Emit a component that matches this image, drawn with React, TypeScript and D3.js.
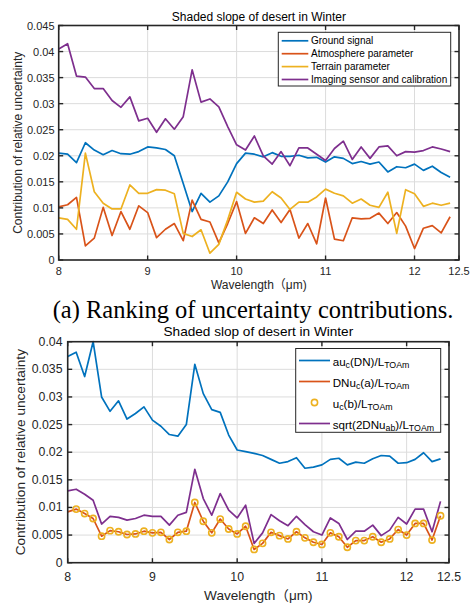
import React, { useEffect, useRef } from 'react'
import * as d3 from 'd3'

// wavelength grid (um)
const wavelength = [
  8.0, 8.1, 8.2, 8.3, 8.4, 8.5, 8.6, 8.7, 8.8, 8.9,
  9.0, 9.1, 9.2, 9.3, 9.4, 9.5, 9.6, 9.7, 9.8, 9.9,
  10.0, 10.1, 10.2, 10.3, 10.4, 10.5, 10.6, 10.7, 10.8, 10.9,
  11.0, 11.1, 11.2, 11.3, 11.4, 11.5, 11.6, 11.7, 11.8, 11.9,
  12.0, 12.1, 12.2, 12.3, 12.4,
]

// (a) ranking of uncertainty contributions
const groundSignal = [
  0.0205, 0.0203, 0.0187, 0.0225, 0.0211, 0.0202, 0.0210, 0.0204, 0.0203, 0.0208,
  0.0217, 0.0215, 0.0212, 0.0200, 0.0147, 0.0093, 0.0128, 0.0111, 0.0123, 0.0150,
  0.0185, 0.0205, 0.0203, 0.0198, 0.0206, 0.0199, 0.0199, 0.0201, 0.0196, 0.0197,
  0.0188, 0.0198, 0.0195, 0.0185, 0.0189, 0.0184, 0.0188, 0.0169, 0.0179, 0.0177,
  0.0184, 0.0172, 0.0180, 0.0168, 0.0159,
]
const atmosphere = [
  0.0102, 0.0106, 0.0120, 0.0027, 0.0042, 0.0101, 0.0047, 0.0093, 0.0059, 0.0104,
  0.0091, 0.0043, 0.0059, 0.0070, 0.0037, 0.0115, 0.0078, 0.0073, 0.0033, 0.0070,
  0.0112, 0.0051, 0.0081, 0.0070, 0.0096, 0.0072, 0.0097, 0.0042, 0.0070, 0.0031,
  0.0119, 0.0040, 0.0037, 0.0081, 0.0079, 0.0080, 0.0090, 0.0070, 0.0091, 0.0065,
  0.0022, 0.0061, 0.0066, 0.0052, 0.0083,
]
const terrain = [
  0.0081, 0.0078, 0.0059, 0.0205, 0.0131, 0.0109, 0.0098, 0.0098, 0.0144, 0.0128,
  0.0128, 0.0135, 0.0134, 0.0127, 0.0051, 0.0045, 0.0058, 0.0013, 0.0030, 0.0077,
  0.0130, 0.0117, 0.0111, 0.0113, 0.0131, 0.0119, 0.0097, 0.0111, 0.0111, 0.0121,
  0.0136, 0.0128, 0.0123, 0.0109, 0.0117, 0.0105, 0.0101, 0.0130, 0.0051, 0.0135,
  0.0127, 0.0103, 0.0109, 0.0105, 0.0109,
]
const imaging = [
  0.0405, 0.0415, 0.0353, 0.0351, 0.0329, 0.0329, 0.0306, 0.0293, 0.0313, 0.0267,
  0.0272, 0.0245, 0.0271, 0.0251, 0.0275, 0.0365, 0.0303, 0.0309, 0.0294, 0.0256,
  0.0221, 0.0211, 0.0238, 0.0200, 0.0184, 0.0208, 0.0181, 0.0215, 0.0215, 0.0203,
  0.0191, 0.0214, 0.0228, 0.0193, 0.0217, 0.0195, 0.0217, 0.0219, 0.0200, 0.0208,
  0.0207, 0.0210, 0.0217, 0.0213, 0.0208,
]

// (b) terms of the shaded slope
const auDN = [
  0.0373, 0.0381, 0.0337, 0.0400, 0.0300, 0.0274, 0.0293, 0.0260, 0.0270, 0.0282,
  0.0258, 0.0247, 0.0232, 0.0229, 0.0250, 0.0359, 0.0306, 0.0277, 0.0272, 0.0231,
  0.0204, 0.0201, 0.0198, 0.0194, 0.0187, 0.0180, 0.0183, 0.0190, 0.0171, 0.0173,
  0.0177, 0.0187, 0.0189, 0.0177, 0.0182, 0.0180, 0.0188, 0.0194, 0.0193, 0.0180,
  0.0181, 0.0187, 0.0199, 0.0183, 0.0188,
]
const dnUa = [
  0.0092, 0.0097, 0.0089, 0.0080, 0.0048, 0.0058, 0.0056, 0.0051, 0.0052, 0.0057,
  0.0054, 0.0055, 0.0042, 0.0055, 0.0057, 0.0109, 0.0075, 0.0054, 0.0079, 0.0061,
  0.0052, 0.0066, 0.0024, 0.0035, 0.0055, 0.0049, 0.0043, 0.0056, 0.0045, 0.0037,
  0.0033, 0.0054, 0.0047, 0.0028, 0.0040, 0.0040, 0.0047, 0.0037, 0.0043, 0.0060,
  0.0050, 0.0071, 0.0071, 0.0041, 0.0085,
]
// circles start at 8.1
const ucB = [
  0.0097, 0.0089, 0.0080, 0.0048, 0.0058, 0.0056, 0.0051, 0.0052, 0.0057,
  0.0054, 0.0055, 0.0042, 0.0055, 0.0057, 0.0109, 0.0075, 0.0054, 0.0079, 0.0061,
  0.0052, 0.0066, 0.0024, 0.0035, 0.0055, 0.0049, 0.0043, 0.0056, 0.0045, 0.0037,
  0.0033, 0.0054, 0.0047, 0.0028, 0.0040, 0.0040, 0.0047, 0.0037, 0.0043, 0.0060,
  0.0050, 0.0071, 0.0071, 0.0041, 0.0085,
]
const sqrtDNab = [
  0.0130, 0.0133, 0.0124, 0.0113, 0.0070, 0.0084, 0.0082, 0.0077, 0.0080, 0.0086,
  0.0084, 0.0084, 0.0068, 0.0086, 0.0091, 0.0169, 0.0116, 0.0086, 0.0125, 0.0095,
  0.0081, 0.0104, 0.0035, 0.0054, 0.0087, 0.0076, 0.0067, 0.0084, 0.0069, 0.0056,
  0.0050, 0.0081, 0.0071, 0.0042, 0.0057, 0.0057, 0.0068, 0.0049, 0.0059, 0.0082,
  0.0070, 0.0097, 0.0097, 0.0056, 0.0111,
]

const xTicks = [8, 9, 10, 11, 12, 12.5]
const yTicksTop = [0, 0.005, 0.01, 0.015, 0.02, 0.025, 0.03, 0.035, 0.04, 0.045]
const yTicksBottom = [0, 0.005, 0.01, 0.015, 0.02, 0.025, 0.03, 0.035, 0.04]

const topLegend = ['Ground signal', 'Atmosphere parameter', 'Terrain parameter', 'Imaging sensor and calibration']
// [text, isSubscript]
const bottomLegend: [string, boolean][][] = [
  [['au', false], ['c', true], ['(DN)/L', false], ['TOAm', true]],
  [['DNu', false], ['c', true], ['(a)/L', false], ['TOAm', true]],
  [['u', false], ['c', true], ['(b)/L', false], ['TOAm', true]],
  [['sqrt(2DNu', false], ['ab', true], [')/L', false], ['TOAm', true]],
]

const BLUE = '#0072BD'
const ORANGE = '#D95319'
const YELLOW = '#EDB120'
const PURPLE = '#7E2F8E'
const AXIS = '#262626'
const SANS = '"Liberation Sans", Arial, "Noto Sans CJK SC", sans-serif'

const drawAxes = (g, o) => {
  const x = d3.scaleLinear().domain([8, 12.5]).range([o.left, o.right])
  const y = d3.scaleLinear().domain([0, o.yMax]).range([o.bottom, o.top])

  g.append('rect')
    .attr('x', o.left).attr('y', o.top)
    .attr('width', o.right - o.left).attr('height', o.bottom - o.top)
    .attr('fill', '#fff')

  // grid
  g.selectAll('.gx').data(xTicks).join('line')
    .attr('x1', d => x(d)).attr('x2', d => x(d))
    .attr('y1', o.top).attr('y2', o.bottom)
    .attr('stroke', '#dcdcdc').attr('stroke-width', 1)
  g.selectAll('.gy').data(o.yTicks).join('line')
    .attr('x1', o.left).attr('x2', o.right)
    .attr('y1', d => y(d)).attr('y2', d => y(d))
    .attr('stroke', '#dcdcdc').attr('stroke-width', 1)

  return { x, y }
}

const drawFrame = (g, o, x, y) => {
  const tl = 4.5
  g.append('rect')
    .attr('x', o.left).attr('y', o.top)
    .attr('width', o.right - o.left).attr('height', o.bottom - o.top)
    .attr('fill', 'none').attr('stroke', AXIS).attr('stroke-width', 1.6)

  xTicks.forEach(t => {
    g.append('line').attr('x1', x(t)).attr('x2', x(t)).attr('y1', o.bottom).attr('y2', o.bottom - tl)
      .attr('stroke', AXIS).attr('stroke-width', 1.4)
    g.append('line').attr('x1', x(t)).attr('x2', x(t)).attr('y1', o.top).attr('y2', o.top + tl)
      .attr('stroke', AXIS).attr('stroke-width', 1.4)
  })
  o.yTicks.forEach(t => {
    g.append('line').attr('x1', o.left).attr('x2', o.left + tl).attr('y1', y(t)).attr('y2', y(t))
      .attr('stroke', AXIS).attr('stroke-width', 1.4)
    g.append('line').attr('x1', o.right).attr('x2', o.right - tl).attr('y1', y(t)).attr('y2', y(t))
      .attr('stroke', AXIS).attr('stroke-width', 1.4)
  })

  g.selectAll('.xl').data(xTicks).join('text')
    .attr('x', d => x(d)).attr('y', o.xTickY)
    .attr('text-anchor', 'middle').attr('dominant-baseline', 'central')
    .attr('font-family', SANS).attr('font-size', o.tickSize).attr('fill', AXIS)
    .text(d => String(d))
  g.selectAll('.yl').data(o.yTicks).join('text')
    .attr('x', o.yTickX).attr('y', d => y(d))
    .attr('text-anchor', 'end').attr('dominant-baseline', 'central')
    .attr('font-family', SANS).attr('font-size', o.tickSize).attr('fill', AXIS)
    .text(d => String(d))

  g.append('text')
    .attr('x', (o.left + o.right) / 2).attr('y', o.titleY)
    .attr('text-anchor', 'middle').attr('dominant-baseline', 'central')
    .attr('font-family', SANS).attr('font-size', o.labelSize).attr('fill', '#000')
    .text(o.title)
  g.append('text')
    .attr('x', (o.left + o.right) / 2).attr('y', o.xLabelY)
    .attr('text-anchor', 'middle').attr('dominant-baseline', 'central')
    .attr('font-family', SANS).attr('font-size', o.labelSize).attr('fill', AXIS)
    .text('Wavelength（μm)')
  g.append('text')
    .attr('transform', `translate(${o.yLabelX},${(o.top + o.bottom) / 2}) rotate(-90)`)
    .attr('text-anchor', 'middle').attr('dominant-baseline', 'central')
    .attr('font-family', SANS).attr('font-size', o.labelSize).attr('fill', AXIS)
    .text('Contribution of relative uncertainty')
}

const App = () => {
  const ref = useRef<SVGSVGElement>(null)

  useEffect(() => {
    const svg = d3.select(ref.current)
    svg.selectAll('*').remove()

    // ---------- top panel ----------
    const top = {
      left: 58.7, right: 459, top: 25.5, bottom: 260, yMax: 0.045, yTicks: yTicksTop,
      tickSize: 11, labelSize: 12, xTickY: 270.5, yTickX: 54.5, titleY: 16.5, xLabelY: 285, yLabelX: 17.5,
      title: 'Shaded slope of desert in Winter',
    }
    const g1 = svg.append('g')
    const a1 = drawAxes(g1, top)
    const line1 = vals => d3.line<number>().x((_, i) => a1.x(wavelength[i])).y(d => a1.y(d))(vals)
    const series1 = [
      { v: groundSignal, c: BLUE },
      { v: atmosphere, c: ORANGE },
      { v: terrain, c: YELLOW },
      { v: imaging, c: PURPLE },
    ]
    series1.forEach(s => {
      g1.append('path').attr('d', line1(s.v)).attr('fill', 'none')
        .attr('stroke', s.c).attr('stroke-width', 1.7).attr('stroke-linejoin', 'round')
    })
    drawFrame(g1, top, a1.x, a1.y)

    const lg1 = g1.append('g')
    lg1.append('rect').attr('x', 278.3).attr('y', 32.3).attr('width', 172.4).attr('height', 53.7)
      .attr('fill', '#fff').attr('stroke', AXIS).attr('stroke-width', 1)
    topLegend.forEach((name, i) => {
      const cy = 40.8 + i * 12.9
      lg1.append('line').attr('x1', 281.7).attr('x2', 308.3).attr('y1', cy).attr('y2', cy)
        .attr('stroke', series1[i].c).attr('stroke-width', 1.7)
      lg1.append('text').attr('x', 311).attr('y', cy).attr('dominant-baseline', 'central')
        .attr('font-family', SANS).attr('font-size', 10).attr('fill', '#000').text(name)
    })

    // caption
    svg.append('text').attr('x', 253).attr('y', 309).attr('text-anchor', 'middle')
      .attr('dominant-baseline', 'central')
      .attr('font-family', '"Liberation Serif", "Times New Roman", serif').attr('font-size', 24.5)
      .attr('fill', '#000').text('(a) Ranking of uncertainty contributions.')

    // ---------- bottom panel ----------
    const bot = {
      left: 67.7, right: 449, top: 341.7, bottom: 562.7, yMax: 0.04, yTicks: yTicksBottom,
      tickSize: 12.3, labelSize: 13.6, xTickY: 577, yTickX: 62.5, titleY: 331, xLabelY: 595, yLabelX: 20,
      title: 'Shaded slop of desert in Winter',
    }
    const g2 = svg.append('g')
    const a2 = drawAxes(g2, bot)
    const line2 = vals => d3.line<number>().x((_, i) => a2.x(wavelength[i])).y(d => a2.y(d))(vals)
    g2.append('path').attr('d', line2(auDN)).attr('fill', 'none')
      .attr('stroke', BLUE).attr('stroke-width', 1.7).attr('stroke-linejoin', 'round')
    g2.append('path').attr('d', line2(sqrtDNab)).attr('fill', 'none')
      .attr('stroke', PURPLE).attr('stroke-width', 1.7).attr('stroke-linejoin', 'round')
    g2.append('path').attr('d', line2(dnUa)).attr('fill', 'none')
      .attr('stroke', ORANGE).attr('stroke-width', 1.7).attr('stroke-linejoin', 'round')
    const wB = wavelength.slice(1)
    g2.selectAll('circle.uc').data(ucB).join('circle')
      .attr('cx', (_, i) => a2.x(wB[i])).attr('cy', d => a2.y(d)).attr('r', 3.1)
      .attr('fill', 'none').attr('stroke', YELLOW).attr('stroke-width', 1.6)
    drawFrame(g2, bot, a2.x, a2.y)

    const lg2 = g2.append('g')
    lg2.append('rect').attr('x', 295.7).attr('y', 348.5).attr('width', 145).attr('height', 83.8)
      .attr('fill', '#fff').attr('stroke', AXIS).attr('stroke-width', 1)
    const legColors = [BLUE, ORANGE, YELLOW, PURPLE]
    bottomLegend.forEach((parts, i) => {
      const cy = 360.5 + i * 21
      if (i === 2) {
        lg2.append('circle').attr('cx', 314.5).attr('cy', cy).attr('r', 3.1)
          .attr('fill', 'none').attr('stroke', YELLOW).attr('stroke-width', 1.6)
      } else {
        lg2.append('line').attr('x1', 299).attr('x2', 330).attr('y1', cy).attr('y2', cy)
          .attr('stroke', legColors[i]).attr('stroke-width', 1.7)
      }
      const t = lg2.append('text').attr('x', 332.7).attr('y', cy)
        .attr('dominant-baseline', 'central')
        .attr('font-family', SANS).attr('font-size', 11.6).attr('fill', '#000')
      let down = false
      parts.forEach(([s, sub]) => {
        const dy = sub && !down ? 4.5 : !sub && down ? -4.5 : 0
        down = sub
        t.append('tspan').attr('dy', dy).attr('font-size', sub ? 8.8 : 11.6).text(s)
      })
    })
  }, [])

  return (
    <svg ref={ref} width={472} height={604} viewBox='0 0 472 604'
      style={{ position: 'absolute', left: 0, top: 0, background: '#fff' }} />
  )
}

export default App
